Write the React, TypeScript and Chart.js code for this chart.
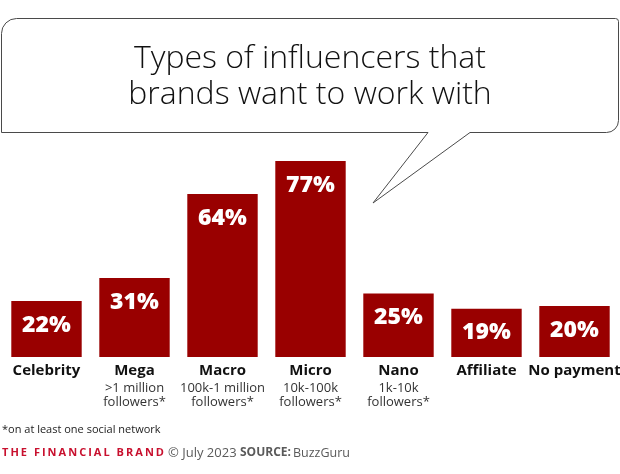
import React, { useEffect, useRef } from "react";
import { Chart, registerables } from "chart.js";

Chart.register(...registerables);

const titleLines = ["Types of influencers that", "brands want to work with"];
const categories = ["Celebrity", "Mega", "Macro", "Micro", "Nano", "Affiliate", "No payment"];
const subLabels: string[][] = [
  [],
  [">1 million", "followers*"],
  ["100k-1 million", "followers*"],
  ["10k-100k", "followers*"],
  ["1k-10k", "followers*"],
  [],
  [],
];
const values = [22, 31, 64, 77, 25, 19, 20];
const footnote = "*on at least one social network";
const brand = "THE FINANCIAL BRAND";
const dateText = "© July 2023";
const sourceLabel = "SOURCE:";
const sourceName = "BuzzGuru";

const FONT = '"Open Sans", "Noto Sans", sans-serif';
const BAR = "#990000";

const annotate = {
  id: "annotate",
  beforeDraw(chart: any) {
    const ctx: CanvasRenderingContext2D = chart.ctx;
    ctx.save();
    // speech bubble
    const L = 1.5, T = 18.5, R = 618.5, B = 132.5;
    ctx.beginPath();
    ctx.moveTo(L, T + 15);
    ctx.arcTo(L, T, L + 15, T, 15);
    ctx.lineTo(R - 3, T);
    ctx.arcTo(R, T, R, T + 3, 3);
    ctx.lineTo(R, B - 12);
    ctx.arcTo(R, B, R - 12, B, 12);
    ctx.lineTo(470, B);
    ctx.lineTo(373, 203);
    ctx.lineTo(428, B);
    ctx.lineTo(L, B);
    ctx.closePath();
    ctx.fillStyle = "#ffffff";
    ctx.fill();
    ctx.strokeStyle = "#4a4a4a";
    ctx.lineWidth = 1;
    ctx.stroke();
    // title
    ctx.fillStyle = "#111111";
    ctx.font = `300 32px ${FONT}`;
    ctx.textAlign = "center";
    ctx.textBaseline = "alphabetic";
    ctx.fillText(titleLines[0], 310, 68);
    ctx.fillText(titleLines[1], 310, 104);
    ctx.restore();
  },
  afterDatasetsDraw(chart: any) {
    const ctx: CanvasRenderingContext2D = chart.ctx;
    const meta = chart.getDatasetMeta(0);
    const xScale = chart.scales.x;
    ctx.save();
    ctx.textAlign = "center";
    ctx.textBaseline = "middle";
    // value labels inside bars
    ctx.fillStyle = "#ffffff";
    ctx.font = `800 23px ${FONT}`;
    meta.data.forEach((bar: any, i: number) => {
      ctx.fillText(values[i] + "%", bar.x, bar.y + 24);
    });
    // category labels
    const base = chart.chartArea.bottom;
    categories.forEach((c, i) => {
      const x = xScale.getPixelForValue(i);
      ctx.fillStyle = "#111111";
      ctx.font = `bold 15px ${FONT}`;
      ctx.fillText(c, x, base + 14);
      ctx.fillStyle = "#333333";
      ctx.font = `13px ${FONT}`;
      subLabels[i].forEach((s, j) => {
        ctx.fillText(s, x, base + 31 + j * 14);
      });
    });
    // footnote
    ctx.textAlign = "left";
    ctx.fillStyle = "#222222";
    ctx.font = `11px ${FONT}`;
    ctx.fillText(footnote, 2, 430);
    // footer
    ctx.font = `bold 11px ${FONT}`;
    const w = ctx.measureText(brand).width;
    const target = 162;
    (ctx as any).letterSpacing = `${(target - w) / (brand.length - 1)}px`;
    ctx.fillStyle = "#c8102e";
    ctx.fillText(brand, 2, 453);
    (ctx as any).letterSpacing = "0px";
    ctx.fillStyle = "#5a5a5a";
    ctx.font = `13px ${FONT}`;
    ctx.fillText(dateText, 168, 453);
    ctx.font = `bold 12px ${FONT}`;
    ctx.fillText(sourceLabel, 240, 453);
    ctx.font = `12.5px ${FONT}`;
    ctx.fillText(sourceName, 293, 453);
    ctx.restore();
  },
};

export default function App() {
  const ref = useRef<HTMLCanvasElement | null>(null);
  useEffect(() => {
    if (!ref.current) return;
    const chart = new Chart(ref.current, {
      type: "bar",
      data: {
        labels: categories,
        datasets: [
          {
            data: values,
            backgroundColor: BAR,
            borderWidth: 0,
            barPercentage: 0.8,
            categoryPercentage: 1.0,
          },
        ],
      },
      options: {
        responsive: false,
        animation: false,
        layout: { padding: { left: 2.5, right: 1.5, top: 102.5, bottom: 117 } },
        plugins: { legend: { display: false }, tooltip: { enabled: false }, title: { display: false } },
        scales: {
          x: { display: false },
          y: { display: false, min: 0, max: 100 },
        },
      },
      plugins: [annotate],
    });
    return () => chart.destroy();
  }, []);
  return (
    <div style={{ position: "fixed", left: 0, top: 0, width: 620, height: 474, background: "#ffffff" }}>
      <canvas ref={ref} width={620} height={474} />
    </div>
  );
}
